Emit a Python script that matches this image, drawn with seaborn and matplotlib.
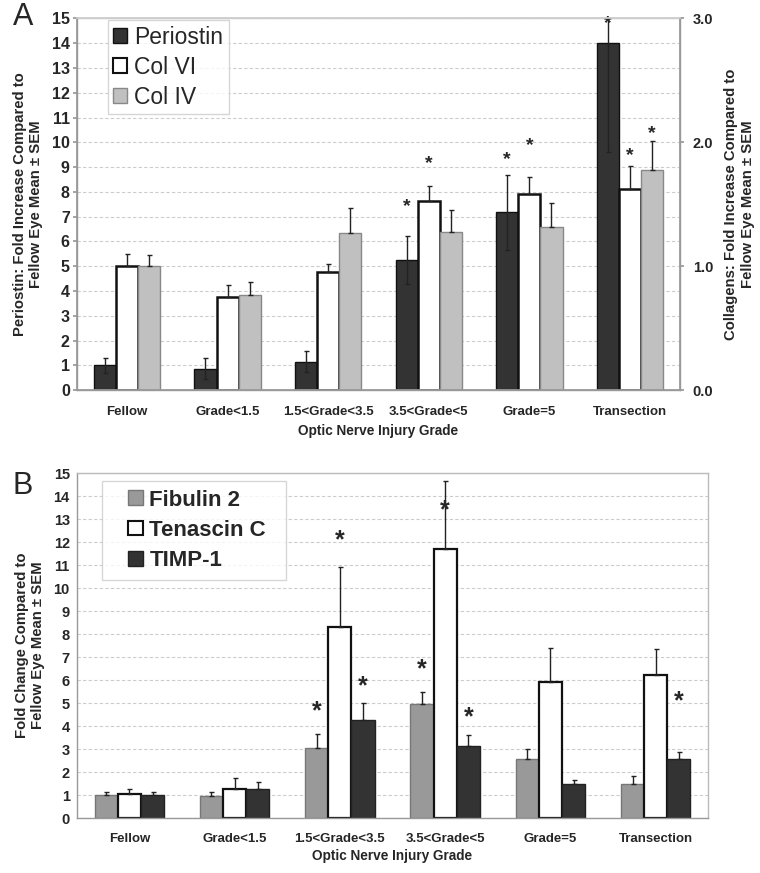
import numpy as np
import pandas as pd
import matplotlib
matplotlib.use('Agg')
import matplotlib.pyplot as plt
import matplotlib.colors as mcolors
import seaborn as sns
from matplotlib.patches import Patch, Rectangle
from matplotlib.legend_handler import HandlerPatch

# datos
grades = ['Fellow', 'Grade<1.5', '1.5<Grade<3.5', '3.5<Grade<5', 'Grade=5', 'Transection']

# Panel A (Periostin en eje izquierdo, colágenos en eje derecho)
periostin = [1.00, 0.87, 1.15, 5.25, 7.17, 14.00]
periostin_sem = [0.30, 0.43, 0.42, 0.98, 1.50, 4.40]
col6 = [1.00, 0.75, 0.95, 1.53, 1.58, 1.62]
col6_sem = [0.10, 0.10, 0.07, 0.12, 0.14, 0.19]
col4 = [1.00, 0.77, 1.27, 1.28, 1.32, 1.78]
col4_sem = [0.09, 0.10, 0.20, 0.17, 0.19, 0.23]
# altura de los asteriscos (None = sin asterisco)
periostin_star = [None, None, None, 7.4, 9.3, 14.8]
col6_star = [None, None, None, 1.83, 1.97, 1.89]
col4_star = [None, None, None, None, None, 2.07]

# Panel B
fibulin = [1.00, 0.97, 3.06, 4.97, 2.55, 1.47]
fibulin_sem = [0.15, 0.16, 0.58, 0.53, 0.45, 0.36]
tenascin = [1.03, 1.27, 8.30, 11.69, 5.91, 6.20]
tenascin_sem = [0.24, 0.48, 2.64, 2.95, 1.49, 1.17]
timp = [1.00, 1.27, 4.27, 3.13, 1.50, 2.55]
timp_sem = [0.13, 0.28, 0.73, 0.48, 0.15, 0.33]
fibulin_star = [None, None, 4.63, 6.48, None, None]
tenascin_star = [None, None, 12.1, 13.4, None, None]
timp_star = [None, None, 5.72, 4.38, None, 5.07]

#---------------
sns.set_theme(style='white')
plt.rcParams['font.family'] = ['Liberation Sans', 'DejaVu Sans']

def long_df(series):
    rows = []
    for name, vals in series.items():
        for g, v in zip(grades, vals):
            rows.append({'grade': g, 'serie': name, 'valor': v})
    return pd.DataFrame(rows)

def estilo_eje(ax, top, ysize):
    ax.set_ylim(0, top)
    ax.set_xlim(-0.5, 5.5)
    ax.set_yticks(range(0, top + 1))
    ax.yaxis.grid(True, color='#cccccc', linestyle=(0, (3, 2)), linewidth=0.8)
    ax.set_axisbelow(True)
    for s in ax.spines.values():
        s.set_color('#999999')
        s.set_linewidth(1)
    ax.set_xticks(np.arange(-0.5, 6, 1), minor=True)
    ax.tick_params(axis='x', which='major', length=0, labelsize=9.5, pad=11)
    ax.tick_params(axis='x', which='minor', length=4, color='#999999', direction='out')
    ax.tick_params(axis='y', length=3, color='#999999', direction='out', labelsize=ysize, pad=2)
    for lab in ax.get_xticklabels() + ax.get_yticklabels():
        lab.set_fontweight('bold')

def barras(ax, df, order_hue, palette):
    sns.barplot(data=df, x='grade', y='valor', hue='serie', order=grades,
                hue_order=order_hue, palette=palette, width=0.66, dodge=True,
                errorbar=None, legend=False, ax=ax, saturation=1)

def barras_de(ax, color):
    # rectángulos de una serie, ordenados por categoría
    rgba = mcolors.to_rgba(color)
    ps = [p for p in ax.patches if np.allclose(p.get_facecolor(), rgba, atol=0.01)]
    return sorted(ps, key=lambda p: p.get_x())

def errores(ax, ps, vals, sem, ambos):
    xs = [p.get_x() + p.get_width() / 2 for p in ps]
    low = sem if ambos else [0] * len(sem)
    ax.errorbar(xs, vals, yerr=[low, sem], fmt='none', ecolor='#222222',
                elinewidth=1, capsize=1.8, capthick=1, zorder=5)

def asteriscos(ax, ps, stars, size):
    for p, s in zip(ps, stars):
        if s is not None:
            ax.text(p.get_x() + p.get_width() / 2, s, '*', ha='center',
                    va='center', fontsize=size, fontweight='bold', zorder=6)

def cuadrado_derecha(legend, orig_handle, xdescent, ydescent, width, height, fontsize):
    # cuadrado pegado a la derecha de la caja del marcador (deja margen a la izquierda)
    return Rectangle((-xdescent + width - height, -ydescent), height, height)

fig = plt.figure(figsize=(7.6, 8.73), dpi=100)

# ---------- Panel A ----------
axA = fig.add_axes([0.101, 0.553, 0.794, 0.426])
order_A = ['Periostin', 'Col VI', 'Col IV']
pal_A = {'Periostin': '#333333', 'Col VI': '#ffffff', 'Col IV': '#c0c0c0'}
barras(axA, long_df({'Periostin': periostin}), order_A, pal_A)
estilo_eje(axA, 15, 11.5)
axA.spines['top'].set_color('#cccccc')

axA2 = axA.twinx()
barras(axA2, long_df({'Col VI': col6, 'Col IV': col4}), order_A, pal_A)
axA2.set_ylim(0, 3)
axA2.set_yticks([0, 1, 2, 3])
axA2.set_yticklabels(['0.0', '1.0', '2.0', '3.0'], fontweight='bold')
axA2.tick_params(axis='y', length=3, color='#999999', labelsize=10.5, pad=6)
for s in axA2.spines.values():
    s.set_color('#999999')
axA2.spines['top'].set_color('#cccccc')
axA2.set_xlim(-0.5, 5.5)

b_per = barras_de(axA, pal_A['Periostin'])
b_c6 = barras_de(axA2, pal_A['Col VI'])
b_c4 = barras_de(axA2, pal_A['Col IV'])
for p in b_per:
    p.set_edgecolor('#111111'); p.set_linewidth(1)
for p in b_c6:
    p.set_edgecolor('#111111'); p.set_linewidth(1.8)
for p in b_c4:
    p.set_edgecolor('#888888'); p.set_linewidth(1)

errores(axA, b_per, periostin, periostin_sem, True)
errores(axA2, b_c6, col6, col6_sem, False)
errores(axA2, b_c4, col4, col4_sem, False)
asteriscos(axA, b_per, periostin_star, 14)
asteriscos(axA2, b_c6, col6_star, 14)
asteriscos(axA2, b_c4, col4_star, 14)

axA.set_xlabel('Optic Nerve Injury Grade', fontsize=9.8, fontweight='bold', labelpad=5)
axA.set_ylabel('Periostin: Fold Increase Compared to\nFellow Eye Mean ± SEM',
               fontsize=10.7, fontweight='bold', labelpad=6)
axA2.set_ylabel('Collagens: Fold Increase Compared to\nFellow Eye Mean ± SEM',
                fontsize=10.7, fontweight='bold', labelpad=8)
axA2.set_xlabel('')

hA = [Patch(facecolor='#333333', edgecolor='#111111', label='Periostin'),
      Patch(facecolor='#ffffff', edgecolor='#111111', linewidth=1.5, label='Col VI'),
      Patch(facecolor='#c0c0c0', edgecolor='#888888', label='Col IV')]
legA = axA2.legend(handles=hA, loc='upper left', bbox_to_anchor=(0.051, 0.995),
                   fontsize=16.5, frameon=True, fancybox=False, handlelength=0.62,
                   handleheight=0.62, handletextpad=0.28, labelspacing=0.3,
                   borderpad=0.25, borderaxespad=0)
legA.get_frame().set_edgecolor('#cccccc')

# ---------- Panel B ----------
axB = fig.add_axes([0.101, 0.063, 0.831, 0.395])
order_B = ['Fibulin 2', 'Tenascin C', 'TIMP-1']
pal_B = {'Fibulin 2': '#999999', 'Tenascin C': '#ffffff', 'TIMP-1': '#333333'}
barras(axB, long_df({'Fibulin 2': fibulin, 'Tenascin C': tenascin, 'TIMP-1': timp}),
       order_B, pal_B)
estilo_eje(axB, 15, 10.5)
axB.spines['top'].set_color('#bbbbbb')
axB.spines['right'].set_color('#bbbbbb')
b_fib = barras_de(axB, pal_B['Fibulin 2'])
b_ten = barras_de(axB, pal_B['Tenascin C'])
b_timp = barras_de(axB, pal_B['TIMP-1'])
for p in b_fib:
    p.set_edgecolor('#777777'); p.set_linewidth(1)
for p in b_ten:
    p.set_edgecolor('#111111'); p.set_linewidth(1.6)
for p in b_timp:
    p.set_edgecolor('#222222'); p.set_linewidth(1)

errores(axB, b_fib, fibulin, fibulin_sem, False)
errores(axB, b_ten, tenascin, tenascin_sem, False)
errores(axB, b_timp, timp, timp_sem, False)
asteriscos(axB, b_fib, fibulin_star, 18)
asteriscos(axB, b_ten, tenascin_star, 18)
asteriscos(axB, b_timp, timp_star, 18)

axB.set_xlabel('Optic Nerve Injury Grade', fontsize=9.8, fontweight='bold', labelpad=3)
axB.set_ylabel('Fold Change Compared to\nFellow Eye Mean ± SEM',
               fontsize=10.7, fontweight='bold', labelpad=6)

hB = [Patch(facecolor='#999999', edgecolor='#777777', label='Fibulin 2'),
      Patch(facecolor='#ffffff', edgecolor='#111111', linewidth=1.5, label='Tenascin C'),
      Patch(facecolor='#333333', edgecolor='#222222', label='TIMP-1')]
legB = axB.legend(handles=hB, loc='upper left', bbox_to_anchor=(0.04, 0.977, 0.292, 0.0),
                  mode='expand', prop={'size': 16, 'weight': 'bold'}, frameon=True,
                  fancybox=False, handlelength=1.45, handleheight=0.63, handletextpad=0.3,
                  labelspacing=0.42, borderpad=0.38, borderaxespad=0,
                  handler_map={Patch: HandlerPatch(patch_func=cuadrado_derecha)})
legB.get_frame().set_edgecolor('#cccccc')

fig.text(0.03, 0.98, 'A', fontsize=22, ha='center', va='center')
fig.text(0.03, 0.443, 'B', fontsize=22, ha='center', va='center')

fig.savefig('out.png', dpi=100)
